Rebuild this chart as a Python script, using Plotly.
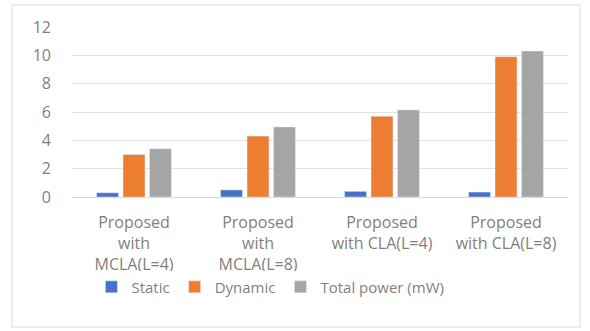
import plotly.graph_objects as go

categories = ["Proposed<br>with<br>MCLA(L=4)", "Proposed<br>with<br>MCLA(L=8)",
              "Proposed<br>with CLA(L=4)", "Proposed<br>with CLA(L=8)"]
static = [0.3, 0.5, 0.4, 0.35]
dynamic = [3.0, 4.3, 5.7, 9.9]
total = [3.4, 4.95, 6.15, 10.3]
y_ticks = [0, 2, 4, 6, 8, 10, 12]

txt = "#7f7f7f"
fig = go.Figure()
fig.add_bar(x=categories, y=static, name="Static", marker_color="#4472C4")
fig.add_bar(x=categories, y=dynamic, name="Dynamic", marker_color="#ED7D31")
fig.add_bar(x=categories, y=total, name="Total power (mW)", marker_color="#A5A5A5")

fig.update_layout(
    width=590, height=331,
    margin=dict(l=72, r=22, t=27, b=134),
    paper_bgcolor="white", plot_bgcolor="white",
    barmode="group", bargap=0.36, bargroupgap=0.17,
    font=dict(family="Open Sans", color=txt, size=15),
    showlegend=True,
    legend=dict(orientation="h", xref="paper", x=0.4, xanchor="center",
                y=-0.53, yanchor="middle", font=dict(size=15, color=txt),
                itemwidth=30, tracegroupgap=0),
    xaxis=dict(showgrid=False, showline=True, linecolor="#d9d9d9",
               tickfont=dict(size=16, color=txt), ticklabelstandoff=11),
    yaxis=dict(range=[0, 12], tickvals=y_ticks, showgrid=True, gridcolor="#e3e3e3",
               zeroline=False, tickfont=dict(size=16, color=txt), ticklabelstandoff=20),
    shapes=[dict(type="rect", xref="paper", yref="paper",
                 x0=(12 - 72) / 496, x1=(580 - 72) / 496,
                 y0=-(327 - 197) / 170, y1=1 + (27 - 5) / 170,
                 line=dict(color="#e6e6e6", width=1.5), layer="below")],
)
fig.write_html("out.html")
